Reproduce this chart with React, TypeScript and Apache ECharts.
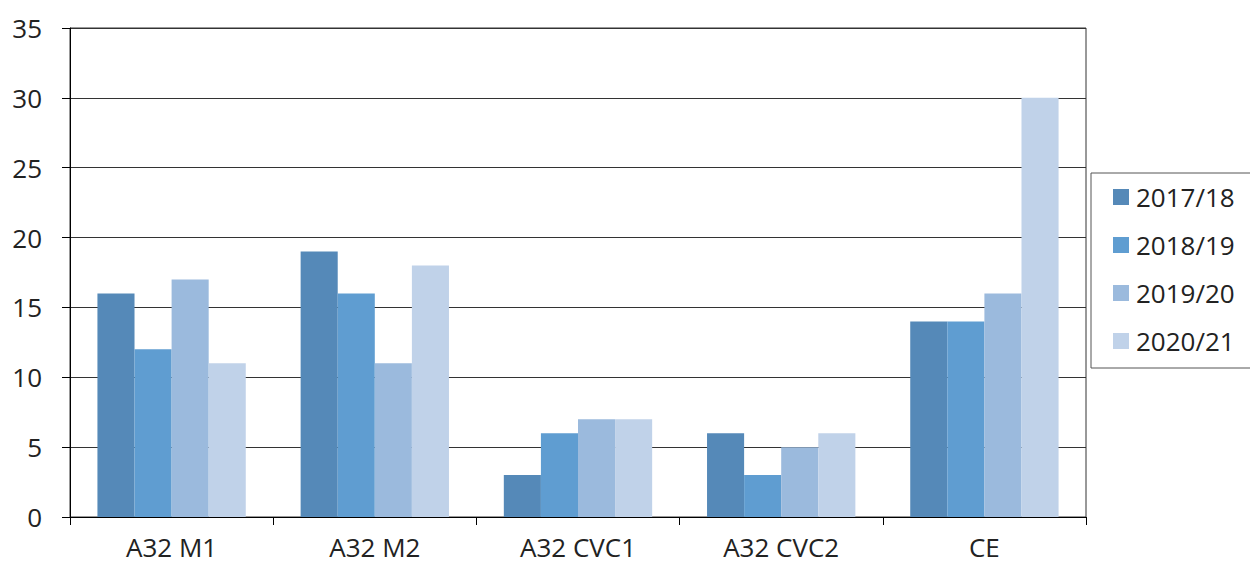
import React, { useEffect, useRef } from "react";
import * as echarts from "echarts";

const categories = ["A32 M1", "A32 M2", "A32 CVC1", "A32 CVC2", "CE"];
const seriesNames = ["2017/18", "2018/19", "2019/20", "2020/21"];
const s2017 = [16, 19, 3, 6, 14];
const s2018 = [12, 16, 6, 3, 14];
const s2019 = [17, 11, 7, 5, 16];
const s2020 = [11, 18, 7, 6, 30];
const colors = ["#5589b8", "#5f9dd1", "#9bbadd", "#c0d2e9"];

export default function App() {
  const ref = useRef<HTMLDivElement>(null);
  useEffect(() => {
    if (!ref.current) return;
    const chart = echarts.init(ref.current, undefined, { renderer: "svg" });
    const data = [s2017, s2018, s2019, s2020];
    chart.setOption({
      animation: false,
      textStyle: { fontFamily: "Open Sans" },
      grid: {
        left: 70,
        right: 164,
        top: 28,
        bottom: 47,
        show: true,
        borderColor: "#333",
        borderWidth: 1,
      },
      legend: {
        orient: "vertical",
        left: 1091,
        top: 173,
        itemWidth: 16,
        itemHeight: 16,
        itemGap: 22,
        padding: [11, 30, 14, 22],
        borderColor: "#555",
        borderWidth: 1,
        icon: "rect",
        textStyle: { fontSize: 26, color: "#222", padding: [0, 0, 0, 2] },
        data: seriesNames,
      },
      xAxis: {
        type: "category",
        data: categories,
        axisLine: { lineStyle: { color: "#000", width: 1 } },
        axisTick: { show: true, length: 8, lineStyle: { color: "#000" } },
        axisLabel: { fontSize: 26, color: "#222", margin: 19, lineHeight: 22 },
      },
      yAxis: {
        type: "value",
        min: 0,
        max: 35,
        interval: 5,
        axisLine: { show: true, lineStyle: { color: "#000", width: 1 } },
        axisTick: { show: true, length: 8, lineStyle: { color: "#000" } },
        axisLabel: { fontSize: 26, color: "#222", margin: 28 },
        splitLine: { lineStyle: { color: "#333", width: 1 } },
      },
      series: seriesNames.map((name, i) => ({
        name,
        type: "bar",
        data: data[i],
        barGap: "0%",
        barCategoryGap: "27%",
        itemStyle: { color: colors[i] },
      })),
    });
    return () => chart.dispose();
  }, []);
  return <div ref={ref} style={{ width: 1250, height: 564, position: "absolute", left: 0, top: 0 }} />;
}
